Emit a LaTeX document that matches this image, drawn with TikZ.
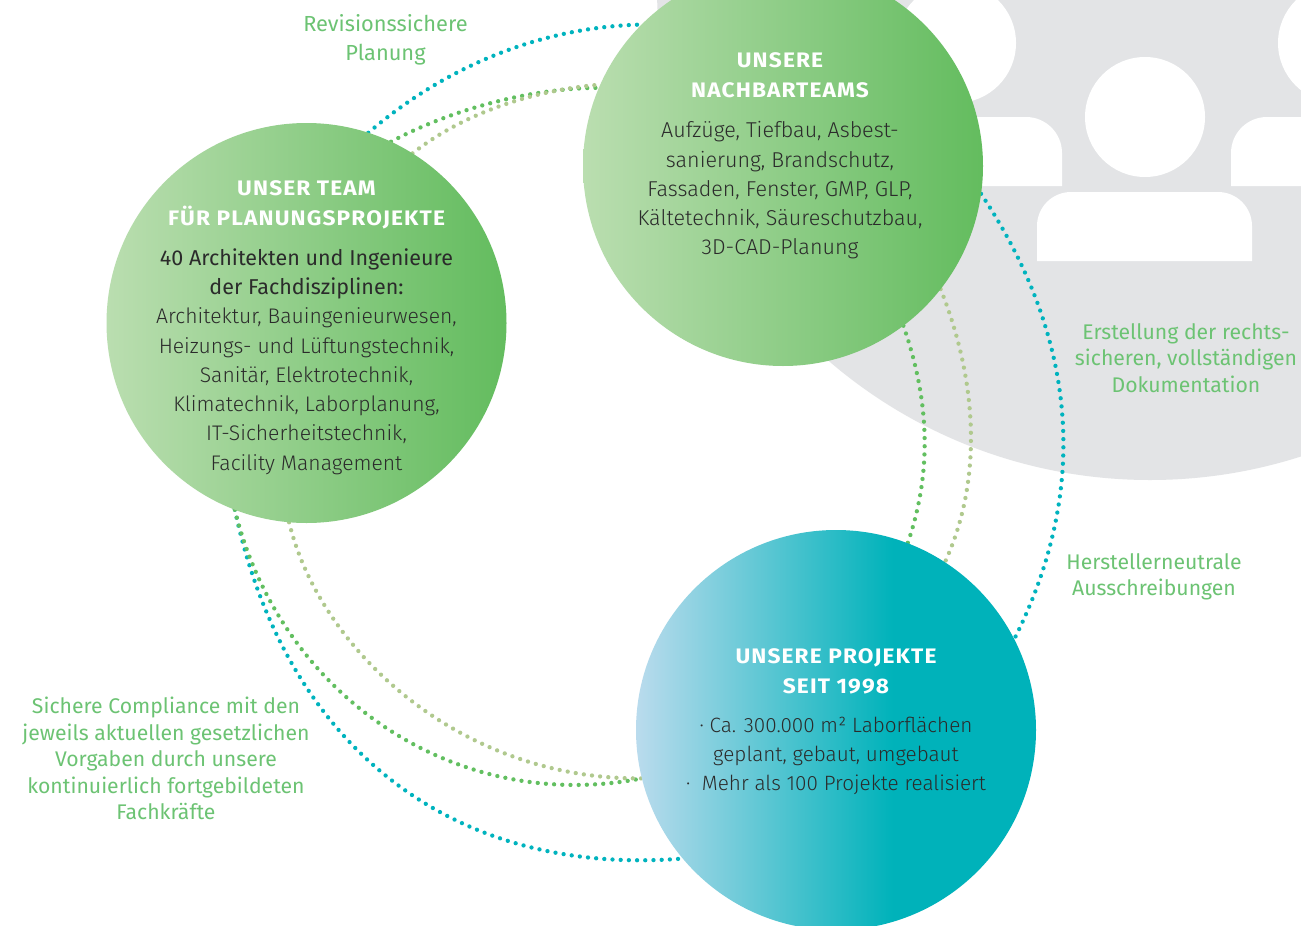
\documentclass[tikz,border=0pt]{standalone}
\usepackage{fontspec}
\setmainfont{Fira Sans Light}
\newfontfamily\headfont[LetterSpace=5.4,FakeStretch=1.08]{Fira Sans Bold}
\newfontfamily\regfont{Fira Sans}
\definecolor{greyfill}{HTML}{E3E4E6}
\definecolor{tealdot}{HTML}{00B3BE}
\definecolor{greendot}{HTML}{62BF60}
\definecolor{olivedot}{HTML}{B0C98E}
\definecolor{labelgreen}{HTML}{6CC373}
\definecolor{bodytext}{HTML}{2B2B2B}
\pgfdeclarehorizontalshading{greenshadeb}{100bp}{rgb(0bp)=(0.73,0.87,0.69);rgb(25bp)=(0.73,0.87,0.69);rgb(70bp)=(0.42,0.75,0.40);rgb(75bp)=(0.39,0.74,0.37);rgb(100bp)=(0.39,0.74,0.37)}
\pgfdeclarehorizontalshading{tealshade}{100bp}{rgb(0bp)=(0.73,0.86,0.93);rgb(25bp)=(0.73,0.86,0.93);rgb(57bp)=(0.0,0.70,0.73);rgb(100bp)=(0.0,0.70,0.73)}
\tikzset{
  x=1pt,y=-1pt,
  bigcircle/.style={circle,minimum size=400pt,inner sep=0pt,outer sep=0pt},
  person/.style={fill=white},
  dotline/.style={line width=4.3pt,line cap=round,dash pattern=on 0pt off 8.2pt},
  tealline/.style={dotline,draw=tealdot},
  greenline/.style={dotline,draw=greendot},
  oliveline/.style={dotline,draw=olivedot},
  headtext/.style={text=white,align=center,font=\headfont\fontsize{21}{29.5}\selectfont},
  bodynode/.style={text=bodytext,align=center},
  labeltext/.style={text=labelgreen,align=center,font=\regfont\fontsize{21.2}{26.5}\selectfont},
}
\begin{document}
\begin{tikzpicture}
\useasboundingbox (0,0) rectangle (1301,926);
\clip (0,0) rectangle (1301,926);
\fill[white] (0,0) rectangle (1301,926);
% grey backdrop with people
\fill[greyfill] (1150,-13) circle[radius=493];
\fill[person] (956,43) circle[radius=60];
\fill[person] (1145,117) circle[radius=60];
\fill[person] (1338,43) circle[radius=60];
\fill[person] (1037,261) [rounded corners=34pt] -- (1037,192) -- (1252,192) [sharp corners] -- (1252,261) -- cycle;
\fill[person] (848,186) [rounded corners=36pt] -- (848,117) -- (1062,117) [sharp corners] -- (1062,186) -- cycle;
\fill[person] (1231,186) [rounded corners=36pt] -- (1231,117) -- (1445,117) [sharp corners] -- (1445,186) -- cycle;
% circles as nodes first
\node[bigcircle] (team) at (306.5,323) {};
\node[bigcircle] (nach) at (783,166) {};
\node[bigcircle] (proj) at (836,730) {};
% connectors
\draw[tealline] (team.72) .. controls (446,66) and (541,27) .. (nach.135);
\draw[greenline] (team.65) .. controls (450,110) and (530,88) .. (nach.157);
\draw[oliveline] (team.58) .. controls (465,112) and (535,90) .. (nach.156);
\draw[tealline] (nach.-8) .. controls (1075,335) and (1092,485) .. (proj.27);
\draw[greenline] (nach.-53) .. controls (931,405) and (931,475) .. (proj.69);
\draw[oliveline] (nach.-38) .. controls (975,375) and (985,475) .. (proj.57);
\draw[tealline] (team.249) .. controls (285,745) and (450,877) .. (proj.220);
\draw[greenline] (team.249.5) .. controls (280,695) and (455,815) .. (proj.194);
\draw[oliveline] (team.265) .. controls (320,650) and (460,780) .. (proj.194);
% filled circles
\shade[shading=greenshadeb] (team.center) circle[radius=200];
\shade[shading=greenshadeb] (nach.center) circle[radius=200];
\shade[shading=tealshade] (proj.center) circle[radius=200];
% texts
\node[headtext] (teamhead) at (306.5,205) {UNSER TEAM\\FÜR PLANUNGSPROJEKTE};
\node[bodynode,font=\fontsize{21.1}{29.3}\selectfont] (teambody) at (306.5,361.5) {{\regfont\fontsize{21.5}{29.3}\selectfont 40 Architekten und Ingenieure}\\{\regfont\fontsize{21.5}{29.3}\selectfont der Fachdisziplinen:}\\Architektur, Bauingenieurwesen,\\Heizungs- und Lüftungstechnik,\\Sanitär, Elektrotechnik,\\Klimatechnik, Laborplanung,\\IT-Sicherheitstechnik,\\Facility Management};
\node[headtext] (nachhead) at (780,75) {UNSERE\\NACHBARTEAMS};
\node[bodynode,font=\fontsize{21.5}{29.3}\selectfont] (nachbody) at (780,190.5) {Aufzüge, Tiefbau, Asbest-\\sanierung, Brandschutz,\\Fassaden, Fenster, GMP, GLP,\\Kältetechnik, Säureschutzbau,\\3D-CAD-Planung};
\node[headtext] (projhead) at (836,671.5) {UNSERE PROJEKTE\\SEIT 1998};
\node[bodynode,font=\fontsize{20.7}{29.3}\selectfont] (projbody) at (836,756) {· Ca. 300.000 m² Laborflächen\\geplant, gebaut, umgebaut\\· \ Mehr als 100 Projekte realisiert};
\node[labeltext,font=\regfont\fontsize{21.8}{29.5}\selectfont] (lab1) at (385.5,40) {Revisionssichere\\Planung};
\node[labeltext] (lab2) at (1186,358) {Erstellung der rechts-\\sicheren, vollständigen\\Dokumentation};
\node[labeltext] (lab3) at (1154,577) {Herstellerneutrale\\Ausschreibungen};
\node[labeltext] (lab4) at (166,758.5) {Sichere Compliance mit den\\jeweils aktuellen gesetzlichen\\Vorgaben durch unsere\\kontinuierlich fortgebildeten\\Fachkräfte};
\end{tikzpicture}
\end{document}
